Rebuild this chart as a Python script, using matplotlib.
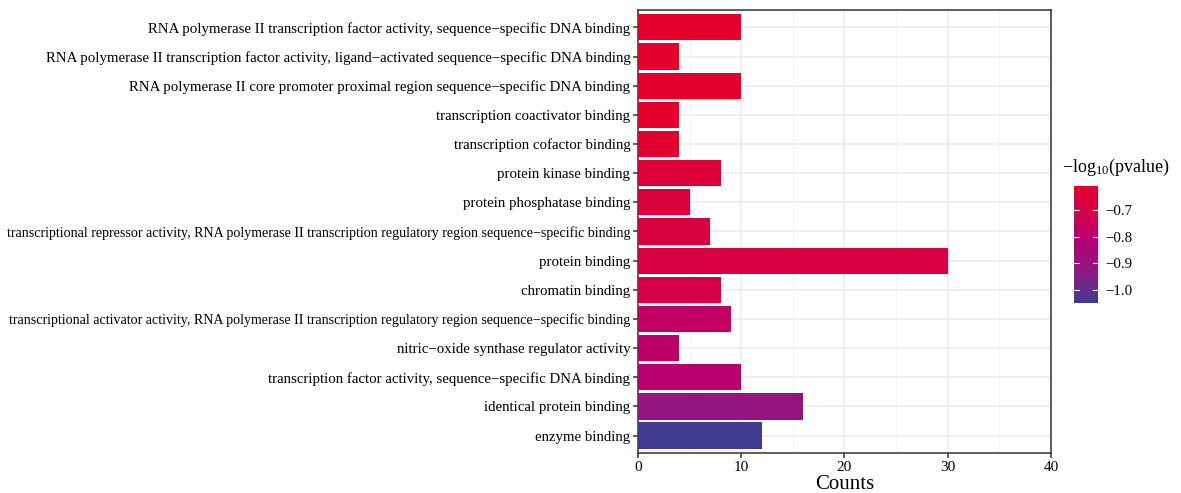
import matplotlib
matplotlib.use("Agg")
import matplotlib.pyplot as plt
import numpy as np
from matplotlib.colors import LinearSegmentedColormap, Normalize
from matplotlib.cm import ScalarMappable

plt.rcParams['font.family'] = ['Liberation Serif', 'DejaVu Serif']
plt.rcParams['mathtext.fontset'] = 'custom'
plt.rcParams['mathtext.rm'] = 'Liberation Serif'
plt.rcParams['mathtext.it'] = 'Liberation Serif:italic'

terms = [
    "RNA polymerase II transcription factor activity, sequence\u2212specific DNA binding",
    "RNA polymerase II transcription factor activity, ligand\u2212activated sequence\u2212specific DNA binding",
    "RNA polymerase II core promoter proximal region sequence\u2212specific DNA binding",
    "transcription coactivator binding",
    "transcription cofactor binding",
    "protein kinase binding",
    "protein phosphatase binding",
    "transcriptional repressor activity, RNA polymerase II transcription regulatory region sequence\u2212specific binding",
    "protein binding",
    "chromatin binding",
    "transcriptional activator activity, RNA polymerase II transcription regulatory region sequence\u2212specific binding",
    "nitric\u2212oxide synthase regulator activity",
    "transcription factor activity, sequence\u2212specific DNA binding",
    "identical protein binding",
    "enzyme binding",
]
counts = [10, 4, 10, 4, 4, 8, 5, 7, 30, 8, 9, 4, 10, 16, 12]
neg_log_p = [-0.61, -0.61, -0.62, -0.62, -0.63, -0.66, -0.67, -0.68, -0.69,
             -0.71, -0.77, -0.79, -0.80, -0.91, -1.05]

x_ticks = [0, 10, 20, 30, 40]
cbar_ticks = [-0.7, -0.8, -0.9, -1.0]

cmap = LinearSegmentedColormap.from_list(
    "pval", ["#403A90", "#8A1C82", "#B0007A", "#D2004C", "#E4002A"])
norm = Normalize(vmin=min(neg_log_p), vmax=max(neg_log_p))

fig = plt.figure(figsize=(11.81, 4.93), dpi=100)
ax = fig.add_axes([0.5402, 0.081, 0.3497, 0.899])

n = len(terms)
ypos = np.arange(n)[::-1]
ax.barh(ypos, counts, height=0.9, color=cmap(norm(np.array(neg_log_p))), zorder=3)

ax.set_xlim(0, 40)
ax.set_ylim(-0.6, n - 0.4)
ax.set_yticks(ypos)
ax.set_yticklabels(terms, fontsize=10.75)
# the two very long terms are set slightly tighter so they fit the margin
for lbl in ax.get_yticklabels():
    if len(lbl.get_text()) > 100:
        lbl.set_fontsize(10.1)
ax.set_xticks(x_ticks)
ax.set_xticklabels([str(t) for t in x_ticks], fontsize=11)
ax.set_xticks([5, 15, 25, 35], minor=True)
ax.grid(True, which='major', color='#EBEBEB', lw=1.1, zorder=0)
ax.grid(True, which='minor', axis='x', color='#F3F3F3', lw=0.6, zorder=0)
ax.tick_params(axis='both', which='major', length=3.5, width=1.1, color='#333333', pad=2)
ax.tick_params(axis='both', which='minor', length=0)
for s in ax.spines.values():
    s.set_color('#333333')
    s.set_linewidth(1.1)
ax.set_xlabel("Counts", fontsize=15, labelpad=1)

# colour bar legend
cax = fig.add_axes([1074 / 1181, 1 - 303 / 493, 24 / 1181, 117 / 493])
sm = ScalarMappable(norm=norm, cmap=cmap)
cb = fig.colorbar(sm, cax=cax, ticks=cbar_ticks)
cb.outline.set_visible(False)
cb.ax.tick_params(length=0, labelsize=10.75, pad=5)
cb.ax.set_yticklabels(["\u22120.7", "\u22120.8", "\u22120.9", "\u22121.0"])
for t in cbar_ticks:
    cb.ax.plot([0, 0.2], [t, t], color='white', lw=0.8, transform=cb.ax.get_yaxis_transform())
    cb.ax.plot([0.8, 1.0], [t, t], color='white', lw=0.8, transform=cb.ax.get_yaxis_transform())
fig.text(1062 / 1181, 1 - 167 / 493, "\u2212log$_{10}$(pvalue)", fontsize=13,
         ha='left', va='center')

fig.savefig("out.png", dpi=100)
